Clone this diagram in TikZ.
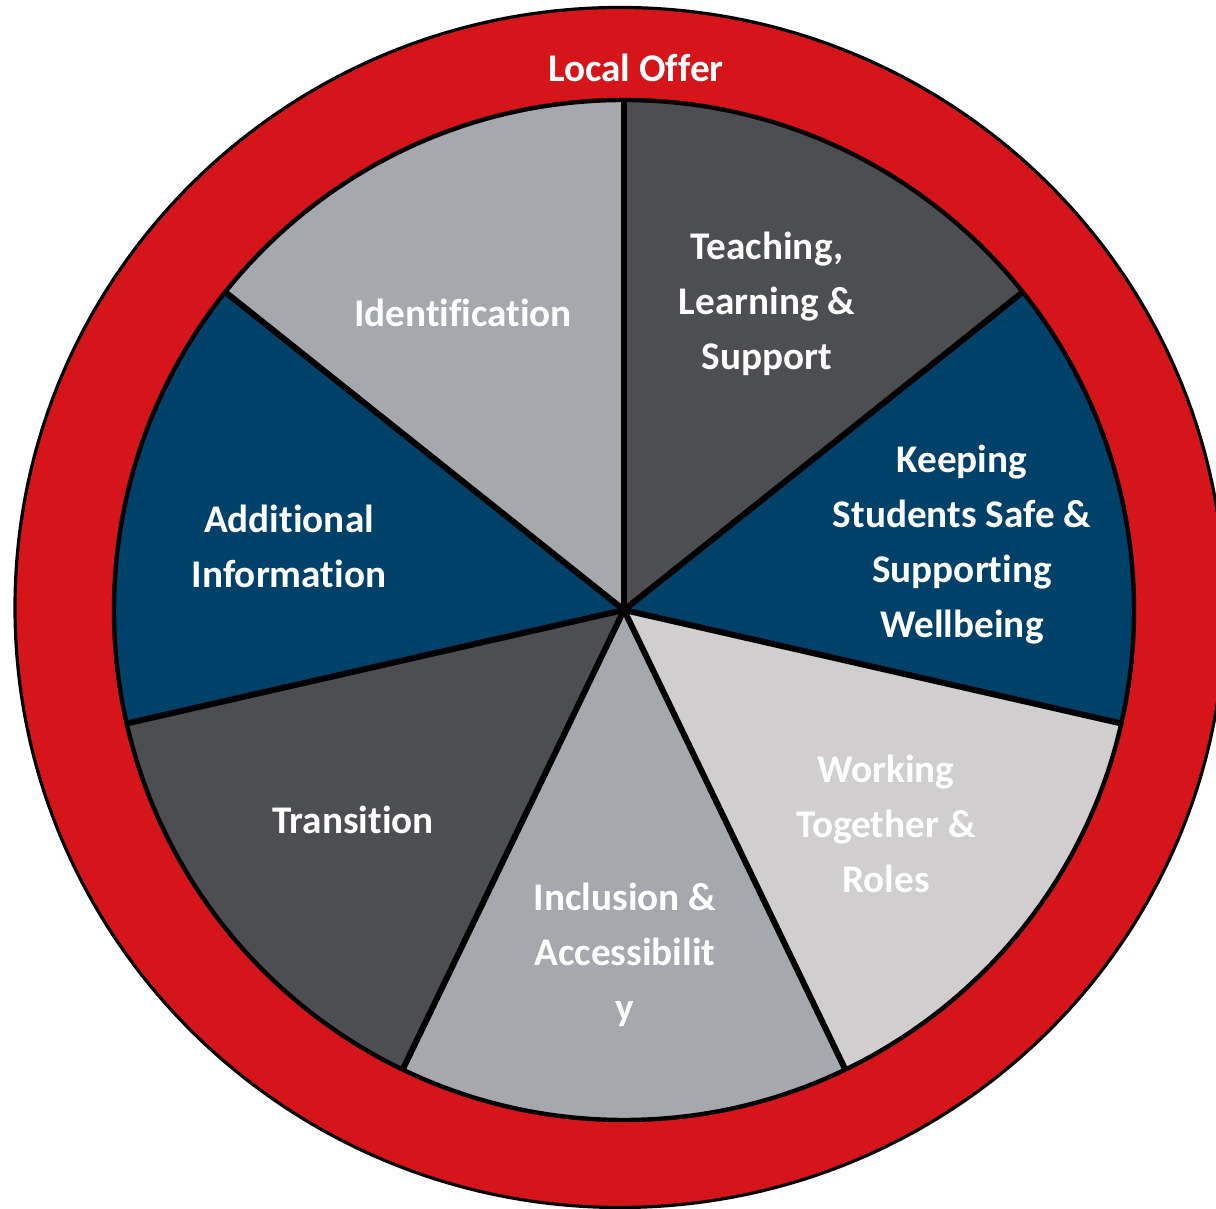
\documentclass[tikz,border=0pt]{standalone}
\usepackage{fontspec}
\setmainfont[Ligatures=NoCommon]{Carlito}
\definecolor{ringred}{RGB}{214,21,27}
\definecolor{navy}{RGB}{0,65,106}
\definecolor{darkgray}{RGB}{77,78,81}
\definecolor{midgray}{RGB}{165,168,172}
\definecolor{lightgray}{RGB}{208,206,207}
\tikzset{
  label/.style={text=white, font=\fontsize{19.6}{27.5}\selectfont\bfseries, align=center, inner sep=0pt},
  spoke/.style={line width=3pt, black},
}
\begin{document}
\begin{tikzpicture}[x=0.5pt,y=0.5pt]
\useasboundingbox (0,0) rectangle (1216,1209);
\begin{scope}
\clip (0,0) rectangle (1216,1209);
\fill[ringred, draw=black, line width=1.6pt] (620,601.5) ellipse [x radius=605, y radius=600];
\end{scope}
\coordinate (C) at (624,599);
\def\R{510}
\foreach \a/\b/\c in {90/38.571/darkgray, 38.571/-12.857/navy, -12.857/-64.286/lightgray, -64.286/-115.714/midgray, -115.714/-167.143/darkgray, 192.857/141.429/navy, 141.429/90/midgray}{
  \fill[\c] (C) -- ++(\a:\R) arc[start angle=\a, end angle=\b, radius=\R] -- cycle;
}
\foreach \a in {90,38.571,-12.857,-64.286,-115.714,-167.143,141.429}{
  \draw[spoke] (C) -- ++(\a:\R);
}
\draw[black, line width=2.2pt] (C) circle [radius=\R];
\node[label] (local) at (636,1141) {Local Offer};
\node[label] (ident) at (463,896) {Identification};
\node[label] (teach) at (767,905) {Teaching,\\Learning \&\\Support};
\node[label] (keep) at (962,664) {Keeping\\Students Safe \&\\Supporting\\Wellbeing};
\node[label] (addl) at (289,663) {Additional\\Information};
\node[label] (trans) at (353,389) {Transition};
\node[label] (incl) at (625,254) {Inclusion \&\\Accessibilit\\y};
\node[label] (work) at (886,385) {Working\\Together \&\\Roles};
\end{tikzpicture}
\end{document}
